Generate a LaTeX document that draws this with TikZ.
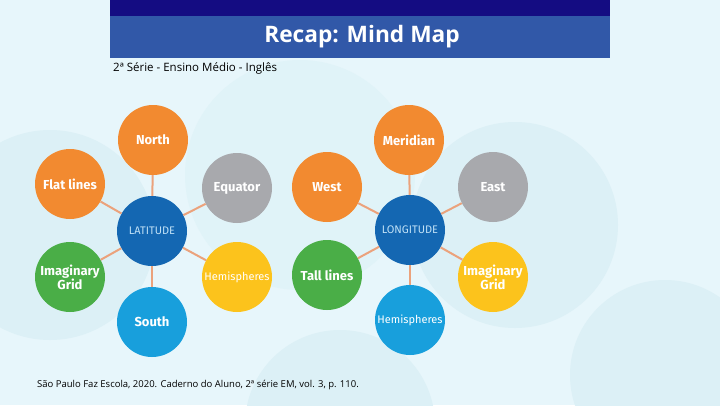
\documentclass[tikz,border=0pt]{standalone}
\usepackage{fontspec}
\setmainfont{Open Sans}
\newfontfamily\nodefont{Fira Sans}
\definecolor{bgc}{HTML}{E7F6FB}
\definecolor{bgcirc}{HTML}{DCF0F6}
\definecolor{navy}{HTML}{140C82}
\definecolor{barblue}{HTML}{3158A8}
\definecolor{corange}{HTML}{F28A30}
\definecolor{cgray}{HTML}{A8A9AD}
\definecolor{cgreen}{HTML}{4AAE47}
\definecolor{cyellow}{HTML}{FCC31C}
\definecolor{cblue}{HTML}{189FDC}
\definecolor{cdark}{HTML}{1467B2}
\definecolor{clink}{HTML}{EBA27C}
\definecolor{ctext}{HTML}{BFE0F6}
\tikzset{
  bub/.style={circle, minimum size=70pt, inner sep=0pt, text=white, align=center, font=\nodefont\bfseries\fontsize{13}{14}\selectfont},
  thin/.style={font=\nodefont\fontsize{11}{12}\selectfont},
  hub/.style={bub, fill=cdark, text=ctext, font=\nodefont\fontsize{11}{12}\selectfont},
  link/.style={draw=clink, line width=2pt}
}
\begin{document}
\begin{tikzpicture}[x=1pt,y=-1pt]
\useasboundingbox (0,0) rectangle (720,405);
\fill[bgc] (0,0) rectangle (720,405);
\begin{scope}
\clip (0,0) rectangle (720,405);
\fill[bgcirc] (50,235) circle[radius=105pt];
\fill[bgcirc!60!bgc] (300,175) circle[radius=115pt];
\fill[bgcirc] (515,225) circle[radius=103pt];
\fill[bgcirc] (665,375) circle[radius=95pt];
\fill[bgcirc] (340,425) circle[radius=95pt];
\end{scope}
% header
\fill[navy] (110,0) rectangle (610,16);
\fill[barblue] (110,16) rectangle (610,58);
\node[text=white, font=\bfseries\fontsize{22.7}{24}\selectfont] (title) at (362,37) {Recap: Mind Map};
\node[anchor=west, inner sep=0pt, font=\fontsize{11.5}{13}\selectfont] (sub) at (113,68) {2ª Série - Ensino Médio - Inglês};
% left cluster
\node[hub] (lat) at (152,231) {LATITUDE};
\node[bub, fill=corange] (north) at (153,140) {North};
\node[bub, fill=corange] (flat) at (70,184) {Flat lines};
\node[bub, fill=cgray] (equ) at (237,188) {Equator};
\node[bub, fill=cgreen] (img1) at (70,277) {Imaginary\\Grid};
\node[bub, thin, fill=cyellow] (hem1) at (237,277) {Hemispheres};
\node[bub, fill=cblue] (south) at (152,322) {South};
\foreach \n in {north,flat,equ,img1,hem1,south} \draw[link] (lat) -- (\n);
% right cluster
\node[hub] (lon) at (410,230) {LONGITUDE};
\node[bub, fill=corange] (mer) at (409,140) {Meridian};
\node[bub, fill=corange] (west) at (327,187) {West};
\node[bub, fill=cgray] (east) at (493,187) {East};
\node[bub, fill=cgreen] (tall) at (327,275) {Tall lines};
\node[bub, fill=cyellow] (img2) at (493,277) {Imaginary\\Grid};
\node[bub, thin, fill=cblue] (hem2) at (410,320) {Hemispheres};
\foreach \n in {mer,west,east,tall,img2,hem2} \draw[link] (lon) -- (\n);
% footer
\node[anchor=west, inner sep=0pt, font=\fontsize{9.5}{11}\selectfont] (foot) at (37,385) {São Paulo Faz Escola, 2020. Caderno do Aluno, 2ª série EM, vol. 3, p. 110.};
\end{tikzpicture}
\end{document}
